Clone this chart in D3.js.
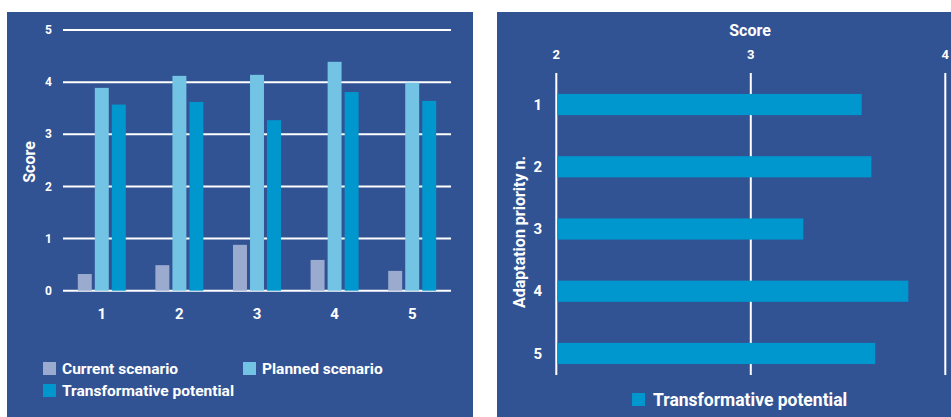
<!DOCTYPE html>
<html>
<head>
<meta charset="utf-8">
<script src="https://cdn.jsdelivr.net/npm/d3@7"></script>
<style>
  body { margin: 0; background: #ffffff; }
  svg { display: block; font-family: Roboto, "Liberation Sans", sans-serif; font-weight: 700; }
</style>
</head>
<body>
<svg id="chart" width="951" height="417"></svg>
<script>
// Data
const priorities = ["1", "2", "3", "4", "5"];
const seriesNames = ["Current scenario", "Planned scenario", "Transformative potential"];
const currentScenario = [0.32, 0.49, 0.88, 0.59, 0.38];
const plannedScenario = [3.89, 4.12, 4.14, 4.39, 3.99];
const transformativePotential = [3.57, 3.62, 3.27, 3.81, 3.64];
const leftTicks = [0, 1, 2, 3, 4, 5];
const rightTicks = [2, 3, 4];

const colours = {
  bg: "rgb(50, 83, 147)",
  current: "rgb(155, 170, 207)",
  planned: "rgb(115, 195, 228)",
  transf: "rgb(0, 150, 206)",
  white: "#ffffff"
};
const seriesColours = [colours.current, colours.planned, colours.transf];
const seriesValues = [currentScenario, plannedScenario, transformativePotential];

const svg = d3.select("#chart");

// panel backgrounds
svg.append("rect").attr("x", 7).attr("y", 12).attr("width", 466).attr("height", 405).attr("fill", colours.bg);
svg.append("rect").attr("x", 497).attr("y", 12).attr("width", 454).attr("height", 405).attr("fill", colours.bg);

// ---------- Left: grouped bar chart ----------
const left = svg.append("g");
const x0 = d3.scaleBand().domain(priorities).range([63, 451]).padding(0);
const groupOffset = (x0.bandwidth() - 48) / 2;
const x1 = d3.scaleBand().domain(seriesNames)
  .range([groupOffset, groupOffset + 48]).paddingInner(0.18);
const yL = d3.scaleLinear().domain([0, 5]).range([290.7, 30]);

// gridlines
left.selectAll(".grid").data(leftTicks).enter().append("line")
  .attr("x1", 63).attr("x2", 451)
  .attr("y1", d => yL(d)).attr("y2", d => yL(d))
  .attr("stroke", colours.white).attr("stroke-width", 2);

// y tick labels
left.selectAll(".ytick").data(leftTicks).enter().append("text")
  .attr("x", 52).attr("y", d => yL(d)).attr("dy", "0.35em")
  .attr("text-anchor", "end").attr("fill", colours.white)
  .attr("font-size", 12).text(d => d);

// bars
seriesNames.forEach((name, si) => {
  left.selectAll(".bar" + si).data(seriesValues[si]).enter().append("rect")
    .attr("x", (d, i) => x0(priorities[i]) + x1(name))
    .attr("width", x1.bandwidth())
    .attr("y", d => yL(d))
    .attr("height", d => yL(0) - yL(d))
    .attr("fill", seriesColours[si]);
});

// x tick labels
left.selectAll(".xtick").data(priorities).enter().append("text")
  .attr("x", d => x0(d) + x0.bandwidth() / 2).attr("y", 314).attr("dy", "0.35em")
  .attr("text-anchor", "middle").attr("fill", colours.white)
  .attr("font-size", 15).text(d => d);

// y axis title
left.append("text")
  .attr("transform", "translate(29,162) rotate(-90)")
  .attr("text-anchor", "middle").attr("dy", "0.35em")
  .attr("fill", colours.white).attr("font-size", 16).text("Score");

// legend
const leftLegend = [
  { name: seriesNames[0], colour: colours.current, x: 43, y: 362 },
  { name: seriesNames[1], colour: colours.planned, x: 243, y: 362 },
  { name: seriesNames[2], colour: colours.transf, x: 43, y: 384 }
];
leftLegend.forEach(l => {
  left.append("rect").attr("x", l.x).attr("y", l.y).attr("width", 13).attr("height", 13).attr("fill", l.colour);
  left.append("text").attr("x", l.x + 19).attr("y", l.y + 6.5).attr("dy", "0.35em")
    .attr("fill", colours.white).attr("font-size", 15.5).text(l.name);
});

// ---------- Right: horizontal bar chart ----------
const right = svg.append("g");
const xR = d3.scaleLinear().domain([2, 4]).range([556.3, 945.3]);
const yR = d3.scaleBand().domain(priorities).range([73.4, 384.6])
  .paddingInner(0.66).paddingOuter(0.33);

right.selectAll(".vgrid").data(rightTicks).enter().append("line")
  .attr("x1", d => xR(d)).attr("x2", d => xR(d))
  .attr("y1", 73).attr("y2", 375)
  .attr("stroke", colours.white).attr("stroke-width", 2);

right.selectAll(".xtickR").data(rightTicks).enter().append("text")
  .attr("x", d => xR(d)).attr("y", 54).attr("dy", "0.35em")
  .attr("text-anchor", "middle").attr("fill", colours.white)
  .attr("font-size", 13).text(d => d);

right.append("text").attr("x", 750).attr("y", 30).attr("dy", "0.35em")
  .attr("text-anchor", "middle").attr("fill", colours.white)
  .attr("font-size", 16).text("Score");

right.selectAll(".barR").data(transformativePotential).enter().append("rect")
  .attr("x", xR(2) + 1)
  .attr("y", (d, i) => yR(priorities[i]))
  .attr("width", d => xR(d) - xR(2) - 1)
  .attr("height", yR.bandwidth())
  .attr("fill", colours.transf);

right.selectAll(".ytickR").data(priorities).enter().append("text")
  .attr("x", 542).attr("y", d => yR(d) + yR.bandwidth() / 2).attr("dy", "0.35em")
  .attr("text-anchor", "end").attr("fill", colours.white)
  .attr("font-size", 15).text(d => d);

right.append("text")
  .attr("transform", "translate(519,232) rotate(-90)")
  .attr("text-anchor", "middle").attr("dy", "0.35em")
  .attr("fill", colours.white).attr("font-size", 16).text("Adaptation priority n.");

right.append("rect").attr("x", 632).attr("y", 393).attr("width", 13).attr("height", 13).attr("fill", colours.transf);
right.append("text").attr("x", 653).attr("y", 399.5).attr("dy", "0.35em")
  .attr("fill", colours.white).attr("font-size", 17.5).text(seriesNames[2]);
</script>
</body>
</html>
